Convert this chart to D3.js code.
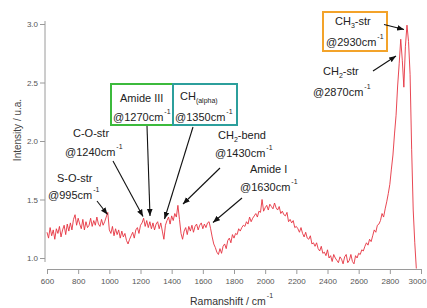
<!DOCTYPE html>
<html><head><meta charset="utf-8">
<script src="https://cdn.jsdelivr.net/npm/d3@7/dist/d3.min.js"></script>
<style>
html,body{margin:0;padding:0;background:#fff;}
svg{display:block;font-family:"Liberation Sans",Arial,sans-serif;}
</style></head>
<body>
<svg id="chart" width="427" height="308"></svg>
<script>
// ---- data ----
const wavenumberStart = 600;
const wavenumberStep = 10;
const intensity = [
 1.22,1.17,1.26,1.19,1.24,1.16,1.25,1.21,1.27,1.18,
 1.24,1.28,1.20,1.29,1.23,1.30,1.24,1.33,1.37,1.28,
 1.34,1.29,1.25,1.33,1.24,1.31,1.26,1.28,1.34,1.27,
 1.32,1.28,1.35,1.29,1.27,1.33,1.28,1.31,1.35,1.39,
 1.24,
 1.21,1.27,1.19,1.25,1.20,1.24,1.17,1.23,1.18,1.21,
 1.15,1.12,1.16,1.19,1.22,1.17,1.24,1.26,1.21,1.28,
 1.30,1.34,1.27,1.32,1.26,1.31,1.25,1.30,1.24,1.29,
 1.31,1.25,1.30,1.23,1.16,1.28,1.32,1.35,1.29,1.36,
 1.32,1.38,1.35,1.45,1.33,1.21,1.16,1.23,1.26,1.20,
 1.27,1.23,1.28,1.22,1.27,1.29,1.24,1.28,1.30,1.25,
 1.29,1.26,1.30,1.31,1.25,1.18,1.12,1.09,1.05,1.03,
 1.08,1.04,1.10,1.12,1.08,1.15,1.17,1.13,1.20,1.17,
 1.21,1.20,1.25,1.23,1.26,1.28,1.27,1.31,1.29,1.35,
 1.31,1.34,1.36,1.38,1.35,1.40,1.39,1.50,1.40,1.43,
 1.45,1.41,1.46,1.44,1.42,1.47,1.43,1.41,1.44,1.38,
 1.40,1.37,1.36,1.39,1.31,1.33,1.30,1.32,1.26,1.27,
 1.25,1.22,1.26,1.21,1.18,1.22,1.17,1.16,1.19,1.12,
 1.13,1.10,1.13,1.08,1.06,1.10,1.04,1.05,1.02,1.07,
 1.00,1.02,0.97,1.03,1.00,0.98,0.96,1.01,0.99,0.95,
 1.01,1.03,0.96,0.98,1.03,0.97,0.95,1.02,1.00,1.04,
 1.03,1.07,1.06,1.10,1.13,1.11,1.16,1.14,1.19,1.24,
 1.22,1.28,1.29,1.32,1.38,1.35,1.42,1.48,1.55,1.63,
 1.76,1.88,2.06,2.22,2.47,2.66,2.87,2.69,2.46,2.81,
 2.99,2.85,2.57,1.93,1.41,1.13,0.91
];
const xTicks = [600,800,1000,1200,1400,1600,1800,2000,2200,2400,2600,2800,3000];
const yTicks = [1.0,1.5,2.0,2.5,3.0];
const xTitle = "Ramanshift / cm";
const yTitle = "Intensity / u.a.";

const spectrum = intensity.map((v,i)=>({w: wavenumberStart + i*wavenumberStep, v}));

// ---- layout ----
const svg = d3.select("#chart");
const x = d3.scaleLinear().domain([600,3000]).range([47,421]);
const y = d3.scaleLinear().domain([1,3]).range([258,24]);
const xAxisY = 269, yAxisX = 45;
const axisColor = "#9a9a9a", tickText = "#555";

// y axis
const ya = svg.append("g").attr("transform",`translate(${yAxisX},0)`)
  .call(d3.axisLeft(y).tickValues(yTicks).tickFormat(d3.format(".1f")).tickSize(5).tickSizeOuter(0).tickPadding(2));
ya.select(".domain").remove();
ya.append("line").attr("x1",0).attr("x2",0).attr("y1",21).attr("y2",262).attr("stroke",axisColor);
ya.selectAll(".tick line").attr("stroke",axisColor);
ya.selectAll(".tick text").attr("fill",tickText).attr("font-size",8).attr("font-family","Liberation Sans, Arial, sans-serif");

// x axis
const xa = svg.append("g").attr("transform",`translate(0,${xAxisY})`)
  .call(d3.axisBottom(x).tickValues(xTicks).tickFormat(d3.format("d")).tickSize(5).tickSizeOuter(0).tickPadding(4));
xa.select(".domain").attr("stroke",axisColor);
xa.selectAll(".tick line").attr("stroke",axisColor);
xa.selectAll(".tick text").attr("fill",tickText).attr("font-size",8).attr("font-family","Liberation Sans, Arial, sans-serif")
  .attr("dx",(d,i,n)=> i===n.length-1 ? -4 : 0);

// spectrum
const line = d3.line().x(d=>x(d.w)).y(d=>y(d.v));
svg.append("path").datum(spectrum).attr("d",line)
  .attr("fill","none").attr("stroke","#e5323f").attr("stroke-width",0.9).attr("stroke-linejoin","round");

// axis titles
const xt = svg.append("text").attr("x",190).attr("y",305).attr("font-size",10.5).attr("fill","#333");
xt.append("tspan").text(xTitle);
xt.append("tspan").attr("dy",-7).attr("dx",1).attr("font-size",7).text("-1");
svg.append("text").attr("transform","translate(21,130) rotate(-90)").attr("text-anchor","middle")
  .attr("font-size",10).attr("fill","#444").text(yTitle);

// annotations
const defs = svg.append("defs");
defs.append("marker").attr("id","ah").attr("viewBox","0 0 10 10").attr("refX",10).attr("refY",5)
  .attr("markerWidth",7).attr("markerHeight",7).attr("markerUnits","userSpaceOnUse").attr("orient","auto")
  .append("path").attr("d","M0,1 L10,5 L0,9 Z").attr("fill","#111");

const annFont = 11, txtCol = "#222";
function label(xp, yp, main, sub, sup){
  const t = svg.append("text").attr("x",xp).attr("y",yp).attr("font-size",annFont).attr("fill",txtCol);
  t.append("tspan").text(main);
  if(sub){ t.append("tspan").attr("dy",3).attr("font-size",7).text(sub.s); t.append("tspan").attr("dy",-3).text(sub.rest||""); }
  if(sup){ t.append("tspan").attr("dy",-7).attr("dx",1).attr("font-size",7).text(sup); }
  return t;
}
function arrow(x1,y1,x2,y2){
  svg.append("line").attr("x1",x1).attr("y1",y1).attr("x2",x2).attr("y2",y2)
    .attr("stroke","#111").attr("stroke-width",1.1).attr("marker-end","url(#ah)");
}
function box(x0,y0,x1,y1,col){
  svg.append("rect").attr("x",x0).attr("y",y0).attr("width",x1-x0).attr("height",y1-y0)
    .attr("fill","none").attr("stroke",col).attr("stroke-width",2);
}

// S-O-str
label(57,182,"S-O-str");
label(48,199,"@995cm",null,"-1");
arrow(97,201,107.5,214.5);
// C-O-str
label(73,137,"C-O-str");
label(65,156,"@1240cm",null,"-1");
arrow(113,161,143,216.5);
// Amide III box
box(111,84,173,125,"#3cba3c");
label(120,102,"Amide III");
label(113,121,"@1270cm",null,"-1");
arrow(147,126,150,216);
// CH(alpha) box
box(173,84,237,125,"#2c9f9c");
label(180,100,"CH",{s:"(alpha)"});
label(175,121,"@1350cm",null,"-1");
arrow(193,127,164.5,219);
// CH2-bend
label(218,139,"CH",{s:"2",rest:"-bend"});
label(215,157,"@1430cm",null,"-1");
arrow(220,168,183,204);
// Amide I
label(250,173,"Amide I");
label(240,191,"@1630cm",null,"-1");
arrow(242,198,213,222.5);
// CH3-str box
box(323,12,387,51,"#f3a32a");
label(335,25,"CH",{s:"3",rest:"-str"});
label(326,46,"@2930cm",null,"-1");
arrow(384,24.5,404,29.5);
// CH2-str
label(323,75,"CH",{s:"2",rest:"-str"});
label(313,96,"@2870cm",null,"-1");
arrow(373,71,396,56);
</script>
</body></html>
